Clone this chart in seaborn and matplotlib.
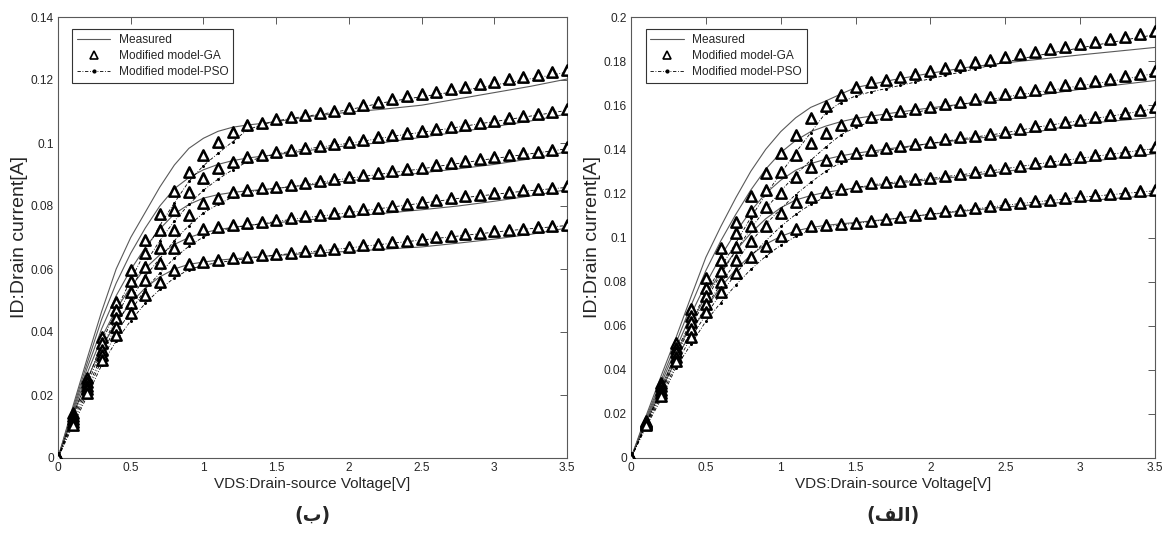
#!/usr/bin/env python3

import pandas as pd
import seaborn as sns
import matplotlib.pyplot as plt
from matplotlib.lines import Line2D
from matplotlib.ticker import FuncFormatter, MultipleLocator

## Drain-source voltage grid used by the model curves (GA / PSO)...
vds = [0.0, 0.1, 0.2, 0.3, 0.4, 0.5, 0.6, 0.7, 0.8, 0.9,
       1.0, 1.1, 1.2, 1.3, 1.4, 1.5, 1.6, 1.7, 1.8, 1.9,
       2.0, 2.1, 2.2, 2.3, 2.4, 2.5, 2.6, 2.7, 2.8, 2.9,
       3.0, 3.1, 3.2, 3.3, 3.4, 3.5]

## Measured curves are drawn on a coarser grid...
vds_meas = [0.0, 0.1, 0.2, 0.3, 0.4, 0.5, 0.6, 0.7, 0.8, 0.9,
            1.0, 1.1, 1.2, 1.3, 1.4, 1.5,
            1.75, 2.0, 2.25, 2.5, 2.75, 3.0, 3.25, 3.5]

## ---------- left panel (ب) ----------
b_meas = [
    [0, .0160, .0315, .0465, .0600, .0700, .0780, .0860, .0930, .0983, .1015, .1037, .1050, .1057, .1062, .1068,
     .1085, .1098, .1108, .1120, .1140, .1160, .1180, .1203],
    [0, .0152, .0300, .0440, .0555, .0650, .0730, .0800, .0855, .0890, .0915, .0932, .0944, .0952, .0958, .0963,
     .0978, .0992, .1002, .1018, .1035, .1052, .1070, .1092],
    [0, .0145, .0285, .0410, .0515, .0598, .0668, .0727, .0775, .0805, .0825, .0836, .0843, .0848, .0852, .0856,
     .0868, .0880, .0892, .0905, .0918, .0932, .0950, .0972],
    [0, .0138, .0268, .0382, .0472, .0543, .0602, .0645, .0678, .0700, .0715, .0725, .0732, .0738, .0743, .0747,
     .0757, .0767, .0777, .0788, .0800, .0815, .0832, .0852],
    [0, .0130, .0250, .0350, .0430, .0492, .0540, .0575, .0600, .0615, .0622, .0628, .0632, .0636, .0640, .0643,
     .0650, .0656, .0663, .0670, .0682, .0695, .0710, .0730],
]
b_ga = [
    [0, .0143, .0254, .0385, .0496, .0598, .0692, .0774, .0848, .0909, .0962, .1004, .1036, .1057, .1064, .1076,
     .1083, .1089, .1095, .1102, .1110, .1120, .1131, .1140, .1148, .1156, .1163, .1170, .1178, .1186,
     .1194, .1202, .1209, .1216, .1224, .1232],
    [0, .0133, .0242, .0364, .0470, .0563, .0650, .0724, .0787, .0845, .0888, .0920, .0941, .0955, .0962, .0970,
     .0978, .0985, .0990, .0996, .1002, .1010, .1018, .1026, .1032, .1038, .1044, .1050, .1057, .1064,
     .1071, .1078, .1085, .1092, .1100, .1108],
    [0, .0124, .0230, .0343, .0443, .0528, .0607, .0666, .0724, .0771, .0809, .0826, .0845, .0851, .0856, .0859,
     .0866, .0872, .0879, .0886, .0892, .0898, .0904, .0910, .0916, .0922, .0929, .0936, .0942, .0949,
     .0955, .0961, .0967, .0973, .0979, .0986],
    [0, .0115, .0218, .0327, .0417, .0491, .0564, .0618, .0666, .0697, .0726, .0734, .0740, .0745, .0750, .0756,
     .0762, .0767, .0772, .0777, .0783, .0789, .0795, .0801, .0807, .0813, .0819, .0825, .0831, .0836,
     .0841, .0846, .0850, .0854, .0858, .0862],
    [0, .0105, .0206, .0311, .0390, .0459, .0517, .0558, .0597, .0616, .0623, .0629, .0634, .0639, .0644, .0648,
     .0652, .0656, .0661, .0665, .0670, .0675, .0680, .0685, .0690, .0695, .0700, .0705, .0710, .0715,
     .0720, .0724, .0728, .0732, .0736, .0740],
]
b_pso = [
    [0, .0135, .0242, .0365, .0470, .0565, .0655, .0738, .0810, .0878, .0928, .0967, .1004, .1041, .1058, .1070,
     .1078, .1085, .1091, .1098, .1106, .1115, .1125, .1133, .1140, .1147, .1154, .1161, .1168, .1176,
     .1184, .1192, .1200, .1208, .1216, .1225],
    [0, .0126, .0230, .0346, .0447, .0535, .0618, .0690, .0752, .0805, .0850, .0885, .0915, .0940, .0955, .0965,
     .0974, .0981, .0987, .0993, .0999, .1006, .1014, .1021, .1028, .1034, .1040, .1047, .1054, .1061,
     .1068, .1075, .1082, .1089, .1096, .1104],
    [0, .0118, .0218, .0326, .0421, .0502, .0577, .0633, .0690, .0738, .0778, .0805, .0828, .0843, .0851, .0856,
     .0862, .0868, .0875, .0882, .0888, .0894, .0900, .0906, .0912, .0918, .0925, .0932, .0938, .0945,
     .0951, .0957, .0963, .0969, .0975, .0982],
    [0, .0109, .0207, .0311, .0396, .0466, .0536, .0587, .0635, .0672, .0702, .0720, .0731, .0738, .0744, .0751,
     .0757, .0763, .0768, .0773, .0779, .0785, .0791, .0797, .0803, .0809, .0815, .0821, .0827, .0832,
     .0837, .0842, .0847, .0851, .0855, .0859],
    [0, .0100, .0196, .0295, .0371, .0436, .0491, .0535, .0572, .0598, .0612, .0620, .0627, .0633, .0639, .0644,
     .0649, .0653, .0658, .0662, .0667, .0672, .0677, .0682, .0687, .0692, .0697, .0702, .0707, .0712,
     .0717, .0722, .0726, .0730, .0734, .0738],
]

## ---------- right panel (الف) ----------
a_meas = [
    [0, .0190, .0370, .0545, .0730, .0910, .1050, .1180, .1300, .1400, .1480, .1543, .1590, .1619, .1650, .1680,
     .1715, .1745, .1772, .1792, .1810, .1828, .1845, .1862],
    [0, .0180, .0350, .0520, .0690, .0850, .0985, .1105, .1215, .1310, .1385, .1440, .1480, .1505, .1525, .1540,
     .1565, .1588, .1608, .1626, .1648, .1672, .1692, .1712],
    [0, .0172, .0335, .0495, .0650, .0790, .0915, .1025, .1120, .1200, .1260, .1305, .1335, .1355, .1370, .1382,
     .1405, .1426, .1446, .1464, .1484, .1515, .1530, .1545],
    [0, .0165, .0320, .0470, .0610, .0735, .0845, .0940, .1020, .1085, .1135, .1170, .1190, .1205, .1215, .1225,
     .1245, .1262, .1280, .1300, .1320, .1340, .1360, .1380],
    [0, .0158, .0305, .0445, .0570, .0680, .0775, .0855, .0920, .0970, .1005, .1030, .1045, .1055, .1062, .1068,
     .1085, .1105, .1122, .1138, .1152, .1165, .1178, .1192],
]
a_ga = [
    [0, .0170, .0340, .0520, .0676, .0815, .0951, .1072, .1188, .1294, .1385, .1465, .1541, .1598, .1646, .1681,
     .1705, .1716, .1728, .1740, .1754, .1767, .1781, .1794, .1806, .1818, .1830, .1843, .1855, .1866,
     .1877, .1888, .1899, .1910, .1922, .1935],
    [0, .0165, .0325, .0500, .0645, .0770, .0898, .1019, .1122, .1215, .1298, .1374, .1427, .1475, .1510, .1533,
     .1548, .1560, .1572, .1583, .1594, .1605, .1616, .1627, .1638, .1649, .1660, .1671, .1681, .1691,
     .1701, .1711, .1721, .1731, .1742, .1755],
    [0, .0160, .0310, .0480, .0615, .0735, .0850, .0958, .1052, .1137, .1203, .1273, .1318, .1351, .1370, .1385,
     .1395, .1404, .1414, .1424, .1435, .1445, .1455, .1462, .1470, .1480, .1492, .1504, .1515, .1525,
     .1535, .1545, .1555, .1565, .1577, .1590],
    [0, .0155, .0295, .0460, .0585, .0698, .0800, .0898, .0986, .1052, .1110, .1162, .1185, .1207, .1222, .1235,
     .1245, .1252, .1258, .1264, .1272, .1280, .1288, .1297, .1306, .1316, .1326, .1336, .1345, .1354,
     .1363, .1372, .1381, .1390, .1399, .1409],
    [0, .0150, .0280, .0440, .0550, .0664, .0754, .0838, .0910, .0963, .1007, .1037, .1052, .1057, .1061, .1067,
     .1075, .1083, .1092, .1102, .1110, .1118, .1126, .1134, .1142, .1150, .1158, .1165, .1172, .1179,
     .1186, .1192, .1198, .1204, .1210, .1216],
]
a_pso = [
    [0, .0160, .0305, .0480, .0620, .0745, .0865, .0975, .1090, .1195, .1290, .1385, .1475, .1565, .1612, .1642,
     .1660, .1675, .1690, .1705, .1720, .1735, .1750, .1765, .1780, .1795, .1810, .1823, .1836, .1848,
     .1860, .1872, .1884, .1896, .1908, .1920],
    [0, .0155, .0300, .0460, .0600, .0715, .0835, .0940, .1040, .1130, .1210, .1285, .1350, .1410, .1465, .1500,
     .1525, .1543, .1556, .1568, .1580, .1592, .1604, .1615, .1626, .1637, .1648, .1658, .1668, .1678,
     .1688, .1698, .1708, .1719, .1731, .1745],
    [0, .0150, .0290, .0445, .0575, .0685, .0790, .0890, .0980, .1060, .1130, .1195, .1250, .1300, .1340, .1365,
     .1382, .1394, .1405, .1416, .1427, .1437, .1447, .1456, .1465, .1475, .1487, .1499, .1510, .1520,
     .1530, .1540, .1550, .1561, .1573, .1585],
    [0, .0145, .0278, .0425, .0545, .0650, .0745, .0835, .0915, .0985, .1050, .1105, .1150, .1185, .1210, .1226,
     .1238, .1247, .1254, .1261, .1268, .1276, .1284, .1293, .1302, .1312, .1322, .1332, .1341, .1350,
     .1359, .1368, .1377, .1386, .1395, .1404],
    [0, .0140, .0265, .0410, .0515, .0620, .0705, .0785, .0855, .0915, .0965, .1005, .1033, .1048, .1057, .1064,
     .1072, .1080, .1089, .1098, .1106, .1114, .1122, .1130, .1138, .1146, .1154, .1161, .1168, .1175,
     .1182, .1188, .1194, .1200, .1206, .1212],
]

legend_labels = ["Measured", "Modified model-GA", "Modified model-PSO"]
x_label = "VDS:Drain-source Voltage[V]"
y_label = "ID:Drain current[A]"
## captions (ب) and (الف), written with Arabic presentation forms in visual
## order because matplotlib does not shape right-to-left text
caption_b = "(\ufe8f)"
caption_alef = "(\ufed2\ufedf\ufe8d)"

MEAS_COLOR = "0.35"
PSO_DASH = (0, (4, 2, 1, 2))


def to_long(x, curves):
    ## one long table per series, one "curve" id per gate voltage
    rows = []
    for k, ys in enumerate(curves):
        for xv, yv in zip(x, ys):
            rows.append({"vds": xv, "id": yv, "curve": k})
    return pd.DataFrame(rows)


def draw_panel(ax, meas, ga, pso, ymax):
    df_meas = to_long(vds_meas, meas)
    df_ga = to_long(vds, ga)
    df_pso = to_long(vds, pso)

    sns.lineplot(data=df_meas, x="vds", y="id", units="curve", estimator=None,
                 color=MEAS_COLOR, lw=0.8, ax=ax, legend=False)
    sns.lineplot(data=df_pso, x="vds", y="id", units="curve", estimator=None,
                 color="black", lw=0.6, linestyle=PSO_DASH,
                 marker="o", markersize=2.2, markeredgewidth=0, ax=ax, legend=False)
    sns.scatterplot(data=df_ga, x="vds", y="id", marker="^", s=55,
                    color="white", edgecolor="black", linewidth=1.8,
                    zorder=3, ax=ax, legend=False)

    ax.set_xlim(0, 3.5)
    ax.set_ylim(0, ymax)
    ax.xaxis.set_major_locator(MultipleLocator(0.5))
    ax.yaxis.set_major_locator(MultipleLocator(0.02))
    fmt = FuncFormatter(lambda v, pos: f"{round(v, 4):g}")
    ax.xaxis.set_major_formatter(fmt)
    ax.yaxis.set_major_formatter(fmt)
    ax.tick_params(direction="in", top=True, right=True, length=5, width=0.7,
                   color="0.35", labelsize=8.6, pad=3)
    for sp in ax.spines.values():
        sp.set_visible(True)
        sp.set_color("0.35")
        sp.set_linewidth(0.8)

    ax.set_xlabel(x_label, fontsize=11, labelpad=2)
    ax.set_ylabel(y_label, fontsize=14, labelpad=2)

    handles = [
        Line2D([], [], color=MEAS_COLOR, lw=0.8),
        Line2D([], [], ls="none", marker="^", mfc="white", mec="black", mew=1.2, ms=6),
        Line2D([], [], color="black", lw=0.6, ls=PSO_DASH, marker="o", ms=2),
    ]
    leg = ax.legend(handles, legend_labels, loc="upper left",
                    bbox_to_anchor=(0.028, 0.972), fontsize=8.6,
                    frameon=True, fancybox=False, framealpha=1,
                    edgecolor="0.2", handlelength=2.8, labelspacing=0.35,
                    borderpad=0.4, handletextpad=0.7, borderaxespad=0)
    leg.get_frame().set_linewidth(0.8)


sns.set_style("white")
plt.rcParams["font.family"] = ["Liberation Sans", "DejaVu Sans"]

W, H = 1171, 533
fig = plt.figure(figsize=(W / 100, H / 100), dpi=100)
ax_b = fig.add_axes([58 / W, 75 / H, 509 / W, 441 / H])
ax_a = fig.add_axes([631 / W, 75 / H, 524 / W, 441 / H])

draw_panel(ax_b, b_meas, b_ga, b_pso, 0.14)
draw_panel(ax_a, a_meas, a_ga, a_pso, 0.2)

## panel captions under each plot
for ax, cap in [(ax_b, caption_b), (ax_a, caption_alef)]:
    pos = ax.get_position()
    fig.text(pos.x0 + pos.width / 2, 18 / H, cap, ha="center", va="center",
             fontsize=13.5, fontweight="bold", family=["DejaVu Sans"])

fig.savefig("out.png", dpi=100)
plt.close(fig)
